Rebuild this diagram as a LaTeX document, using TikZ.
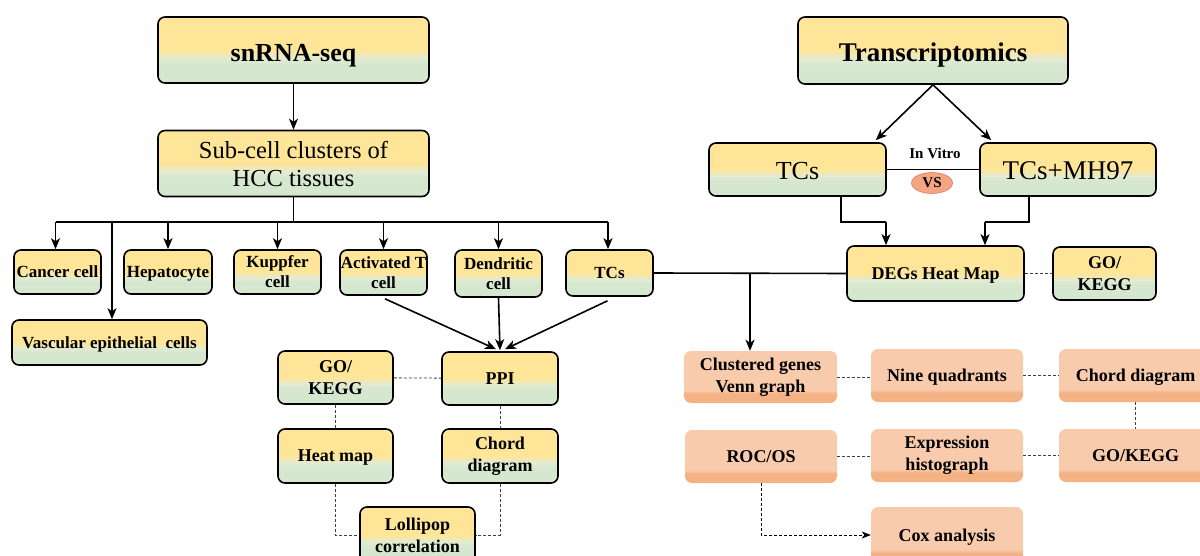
\documentclass[tikz,border=0pt]{standalone}
\usepackage{fontspec}
\setmainfont{Liberation Serif}
\usetikzlibrary{arrows.meta,calc,shapes.geometric}
\definecolor{yy}{HTML}{FEE597}
\definecolor{yg}{HTML}{D5E8CF}
\definecolor{ypale}{HTML}{E3EBD2}
\definecolor{sl}{HTML}{F8CBAD}
\definecolor{sd}{HTML}{F4B183}
\definecolor{vsfill}{HTML}{F4A582}
\definecolor{vsdraw}{HTML}{E07A5F}
\pgfdeclareverticalshading{ygshade}{100bp}{color(0bp)=(yg); color(39bp)=(yg); color(44bp)=(ypale); color(50bp)=(yy); color(100bp)=(yy)}
\pgfdeclareverticalshading{slshade}{100bp}{color(0bp)=(sd); color(34bp)=(sd); color(37bp)=(sl); color(100bp)=(sl)}
\tikzset{
  ybox/.style={draw=black, line width=1.6pt, rounded corners=7pt, shade, shading=ygshade, align=center, inner sep=0pt},
  sbox/.style={draw=none, rounded corners=7pt, shade, shading=slshade, align=center, inner sep=0pt, font=\fontsize{18}{22}\selectfont\bfseries},
  small/.style={font=\fontsize{17}{20}\selectfont\bfseries},
  mid/.style={font=\fontsize{18}{22}\selectfont\bfseries},
  one/.style={text depth=0pt},
  conn/.style={draw=black, line width=1.6pt},
  arr/.style={conn, -{Stealth[length=11pt,width=9pt,inset=3pt]}},
  dsh/.style={draw=black!75, line width=0.8pt, dash pattern=on 3pt off 2pt},
}
\begin{document}
\begin{tikzpicture}[x=1pt,y=-1pt]
\clip (0,0) rectangle (1200,556);
\fill[white] (0,0) rectangle (1200,556);
% top left
\node[ybox, minimum width=271pt, minimum height=66pt, text height=24pt, text depth=0pt, font=\fontsize{26}{30}\selectfont\bfseries] (snrna) at (293.5,50) {snRNA-seq};
\node[ybox, minimum width=271pt, minimum height=66pt, font=\fontsize{24.5}{28}\selectfont] (subcell) at (293.5,163.5) {Sub-cell clusters of\\HCC tissues};
% top right
\node[ybox, minimum width=270pt, minimum height=67pt, text height=23pt, text depth=0pt, font=\fontsize{27}{30}\selectfont\bfseries] (trans) at (933,50.5) {Transcriptomics};
\node[ybox, minimum width=177pt, minimum height=53pt, text height=21pt, text depth=0pt, font=\fontsize{26}{30}\selectfont] (tcsR) at (797.5,169.5) {TCs};
\node[ybox, minimum width=176pt, minimum height=53pt, text height=21pt, text depth=0pt, font=\fontsize{27}{30}\selectfont] (tcsmh) at (1068,169.5) {TCs+MH97};
% cell row
\node[ybox, small, minimum width=87pt, minimum height=44pt] (cancer) at (57.5,272) {Cancer cell};
\node[ybox, small, one, minimum width=88pt, minimum height=44pt] (hep) at (168,272) {Hepatocyte};
\node[ybox, small, minimum width=87pt, minimum height=44pt] (kup) at (277.5,272) {Kuppfer\\cell};
\node[ybox, small, minimum width=87pt, minimum height=45pt] (act) at (383.5,272.5) {Activated T\\cell};
\node[ybox, small, minimum width=87pt, minimum height=47pt] (den) at (498.5,273.5) {Dendritic\\cell};
\node[ybox, small, minimum width=87pt, minimum height=46pt] (tcs) at (609.5,273) {TCs};
\node[ybox, small, one, minimum width=195pt, minimum height=45pt] (vasc) at (109.5,342.5) {Vascular epithelial\ \ cells};
% left analyses
\node[ybox, mid, minimum width=115pt, minimum height=53pt] (gok1) at (335.5,377.5) {GO/\\KEGG};
\node[ybox, mid, minimum width=116pt, minimum height=53pt] (ppi) at (500,378.5) {PPI};
\node[ybox, mid, one, minimum width=115pt, minimum height=54pt] (heat) at (335.5,456) {Heat map};
\node[ybox, mid, minimum width=116pt, minimum height=54pt] (chord1) at (500,456) {Chord\\diagram};
\node[ybox, mid, minimum width=115pt, minimum height=56pt] (lolli) at (417.5,535) {Lollipop\\correlation};
% right
\node[ybox, mid, one, minimum width=177pt, minimum height=55pt] (degs) at (935.5,273.5) {DEGs Heat Map};
\node[ybox, mid, minimum width=103pt, minimum height=53pt] (gok2) at (1104.5,273.5) {GO/\\KEGG};
\node[sbox, minimum width=153pt, minimum height=52pt] (clust) at (760.5,377) {Clustered genes\\Venn graph};
\node[sbox, one, minimum width=152pt, minimum height=53pt] (nine) at (947,375.5) {Nine quadrants};
\node[sbox, one, minimum width=153pt, minimum height=53pt] (chord2) at (1135.5,375.5) {Chord diagram};
\node[sbox, one, minimum width=152pt, minimum height=53pt] (roc) at (761,456.5) {ROC/OS};
\node[sbox, minimum width=152pt, minimum height=53pt] (expr) at (947,455.5) {Expression\\histograph};
\node[sbox, one, minimum width=153pt, minimum height=53pt] (gok3) at (1135.5,455.5) {GO/KEGG};
\node[sbox, one, minimum width=152pt, minimum height=56pt] (cox) at (947,535) {Cox analysis};
% VS
\node[ellipse, draw=vsdraw, line width=0.6pt, fill=vsfill, minimum width=41pt, minimum height=21pt, inner sep=0pt, font=\fontsize{15}{16}\selectfont\bfseries] (vs) at (932,183) {VS};
\node[font=\fontsize{15}{16}\selectfont\bfseries, inner sep=0pt] (vitro) at (935,153) {In Vitro};
% left connectors
\draw[arr] (snrna) -- (subcell);
\coordinate (busL) at (55.5,222);
\coordinate (busR) at (608,222);
\draw[conn] (subcell.south) -- (subcell.south |- busL);
\draw[conn] (busL) -- (busR);
\draw[arr] (busL) -- (busL |- cancer.north);
\coordinate (bv) at (112,222);
\draw[arr] (bv) -- (bv |- vasc.north);
\draw[arr] (hep.north |- busL) -- (hep.north);
\draw[arr] (kup.north |- busL) -- (kup.north);
\draw[arr] (act.north |- busL) -- (act.north);
\draw[arr] (den.north |- busL) -- (den.north);
\draw[arr] (busR) -- (busR |- tcs.north);
\draw[arr] ($(act.south)+(1.5,3)$) -- ($(ppi.north)+(-4,-2)$);
\draw[arr] (den.south) -- ($(ppi.north)+(0,-1)$);
\draw[arr] ($(tcs.south)+(-2,4)$) -- ($(ppi.north)+(5,-2)$);
\draw[dsh] (gok1) -- (ppi);
\draw[dsh] (gok1) -- (heat);
\draw[dsh] (ppi) -- (chord1);
\draw[dsh] (heat.south) |- (lolli.west);
\draw[dsh] (chord1.south) |- (lolli.east);
% right connectors
\draw[arr] (trans.south) -- ($(tcsR.north east)+(-11,-2)$);
\draw[arr] (trans.south) -- ($(tcsmh.north west)+(12,-2)$);
\draw[conn] (tcsR) -- (tcsmh);
\coordinate (lA) at (841,222);
\coordinate (lB) at (886,222);
\coordinate (rA) at (1029,222);
\coordinate (rB) at (985,222);
\draw[conn] (lA |- tcsR.south) -- (lA) -- (lB);
\draw[arr] (lB) -- (lB |- degs.north);
\draw[conn] (rA |- tcsmh.south) -- (rA) -- (rB);
\draw[arr] (rB) -- (rB |- degs.north);
\draw[conn] (tcs.east) -- (degs.west);
\coordinate (br) at (750,273);
\draw[arr] (br) -- (br |- clust.north);
\draw[dsh] (degs) -- (gok2);
\draw[dsh] (clust.east) -- (clust.east -| nine.west);
\draw[dsh] (nine) -- (chord2);
\draw[dsh] (chord2) -- (gok3);
\draw[dsh] (roc.east) -- (roc.east -| expr.west);
\draw[dsh] (expr) -- (gok3);
\draw[dsh, -{Stealth[length=9pt,width=7pt,inset=2.5pt]}, black] (roc.south) |- (cox.west);
\end{tikzpicture}
\end{document}
